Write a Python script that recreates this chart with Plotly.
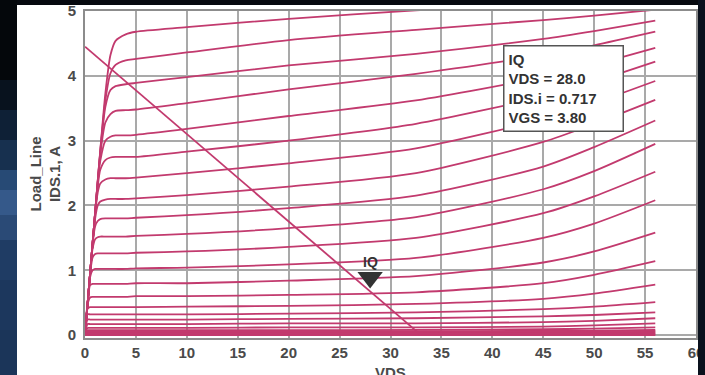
import plotly.graph_objects as go

# ---------------- data ----------------
VDS = [0, 0.25, 0.5, 0.75, 1, 1.25, 1.5, 2, 2.5, 3, 4, 5, 10, 20, 32.5, 45, 50, 56]

C1 = [0, 0.47, 0.95, 1.43, 1.90, 2.38, 2.85, 3.73, 4.32, 4.54, 4.64, 4.68, 4.75, 4.88, 5.01, 5.12, 5.16, 5.20]
C2 = [0, 0.48, 0.95, 1.43, 1.90, 2.38, 2.84, 3.62, 4.04, 4.17, 4.24, 4.26, 4.36, 4.55, 4.71, 4.86, 4.93, 5.02]
C3 = [0, 0.47, 0.95, 1.42, 1.90, 2.37, 2.82, 3.52, 3.78, 3.84, 3.87, 3.89, 3.98, 4.16, 4.34, 4.57, 4.69, 4.85]
C4 = [0, 0.48, 0.95, 1.43, 1.90, 2.36, 2.79, 3.28, 3.41, 3.46, 3.47, 3.48, 3.58, 3.79, 4.03, 4.32, 4.47, 4.68]
C5 = [0, 0.48, 0.95, 1.42, 1.90, 2.35, 2.69, 3.00, 3.06, 3.08, 3.08, 3.09, 3.18, 3.38, 3.62, 3.98, 4.17, 4.43]
C6 = [0, 0.48, 0.95, 1.42, 1.89, 2.29, 2.55, 2.70, 2.74, 2.75, 2.75, 2.75, 2.83, 3.00, 3.26, 3.68, 3.91, 4.22]
C7 = [0, 0.47, 0.95, 1.43, 1.88, 2.20, 2.34, 2.40, 2.42, 2.42, 2.42, 2.43, 2.50, 2.65, 2.88, 3.33, 3.58, 3.92]
C8 = [0, 0.47, 0.95, 1.42, 1.80, 2.00, 2.06, 2.09, 2.10, 2.10, 2.10, 2.11, 2.16, 2.29, 2.50, 2.98, 3.26, 3.63]
C9 = [0, 0.48, 0.95, 1.41, 1.68, 1.76, 1.79, 1.80, 1.80, 1.80, 1.80, 1.81, 1.85, 1.96, 2.15, 2.60, 2.90, 3.31]
C10 = [0, 0.48, 0.95, 1.34, 1.48, 1.51, 1.52, 1.52, 1.52, 1.52, 1.52, 1.53, 1.56, 1.65, 1.82, 2.25, 2.53, 2.95]
C11 = [0, 0.48, 0.94, 1.20, 1.25, 1.26, 1.26, 1.26, 1.26, 1.26, 1.26, 1.27, 1.29, 1.36, 1.50, 1.88, 2.14, 2.52]
C12 = [0, 0.48, 0.89, 1.00, 1.02, 1.02, 1.02, 1.02, 1.02, 1.02, 1.02, 1.03, 1.04, 1.09, 1.19, 1.50, 1.72, 2.08]
C13 = [0, 0.47, 0.77, 0.79, 0.79, 0.79, 0.79, 0.79, 0.79, 0.79, 0.79, 0.80, 0.80, 0.84, 0.91, 1.12, 1.29, 1.58]
C14 = [0, 0.47, 0.58, 0.59, 0.59, 0.59, 0.59, 0.59, 0.59, 0.59, 0.59, 0.60, 0.60, 0.62, 0.66, 0.80, 0.93, 1.14]
C15 = [0, 0.41, 0.43, 0.43, 0.43, 0.43, 0.43, 0.43, 0.43, 0.43, 0.43, 0.43, 0.44, 0.45, 0.48, 0.56, 0.64, 0.78]
C16 = [0, 0.32, 0.32, 0.32, 0.32, 0.32, 0.32, 0.32, 0.32, 0.32, 0.32, 0.32, 0.32, 0.33, 0.35, 0.40, 0.44, 0.51]
C17 = [0, 0.24, 0.24, 0.24, 0.24, 0.24, 0.24, 0.24, 0.24, 0.24, 0.24, 0.24, 0.24, 0.25, 0.26, 0.29, 0.31, 0.35]
C18 = [0, 0.17, 0.17, 0.17, 0.17, 0.17, 0.17, 0.17, 0.17, 0.17, 0.17, 0.17, 0.17, 0.18, 0.18, 0.20, 0.22, 0.26]
C19 = [0, 0.11, 0.11, 0.11, 0.11, 0.11, 0.11, 0.11, 0.11, 0.11, 0.11, 0.11, 0.11, 0.12, 0.12, 0.13, 0.15, 0.18]
C20 = [0, 0.075, 0.075, 0.075, 0.075, 0.075, 0.075, 0.075, 0.075, 0.075, 0.075, 0.075, 0.075, 0.075, 0.08, 0.09, 0.10, 0.12]
B1 = [0, 0.06, 0.06, 0.06, 0.06, 0.06, 0.06, 0.06, 0.06, 0.06, 0.06, 0.06, 0.06, 0.06, 0.06, 0.065, 0.07, 0.08]
B2 = [0, 0.05, 0.05, 0.05, 0.05, 0.05, 0.05, 0.05, 0.05, 0.05, 0.05, 0.05, 0.05, 0.05, 0.05, 0.055, 0.06, 0.065]
B3 = [0, 0.04, 0.04, 0.04, 0.04, 0.04, 0.04, 0.04, 0.04, 0.04, 0.04, 0.04, 0.04, 0.04, 0.04, 0.042, 0.045, 0.05]
B4 = [0, 0.03, 0.03, 0.03, 0.03, 0.03, 0.03, 0.03, 0.03, 0.03, 0.03, 0.03, 0.03, 0.03, 0.03, 0.032, 0.034, 0.037]
B5 = [0, 0.02, 0.02, 0.02, 0.02, 0.02, 0.02, 0.02, 0.02, 0.02, 0.02, 0.02, 0.02, 0.02, 0.02, 0.021, 0.022, 0.024]
B6 = [0, 0.01, 0.01, 0.01, 0.01, 0.01, 0.01, 0.01, 0.01, 0.01, 0.01, 0.01, 0.01, 0.01, 0.01, 0.011, 0.012, 0.013]
B7 = [0, 0, 0, 0, 0, 0, 0, 0, 0, 0, 0, 0, 0, 0, 0, 0, 0, 0]

CURVES = [C1, C2, C3, C4, C5, C6, C7, C8, C9, C10, C11, C12, C13, C14, C15,
          C16, C17, C18, C19, C20, B1, B2, B3, B4, B5, B6, B7]

LOAD_VDS = [0, 33]
LOAD_IDS = [4.45, 0]

IQ_VDS = 28.0
IQ_IDS = 0.717
IQ_VGS = 3.80

X_TICKS = [0, 5, 10, 15, 20, 25, 30, 35, 40, 45, 50, 55, 60]
Y_TICKS = [0, 1, 2, 3, 4, 5]

# ---------------- styling ----------------
W, H = 705, 375
ML, MR, MT, MB = 85, 9, 11, 37
PW, PH = W - ML - MR, H - MT - MB
CURVE_COLOR = "#c23a6e"
TXT = "#4a4a4a"
FONT = "Liberation Sans, Arial, sans-serif"
Y_RANGE = [-0.045, 5.0]


def px_x(p):
    return (p - ML) / PW


def px_y(p):
    return (H - MB - p) / PH


fig = go.Figure()
for c in CURVES:
    fig.add_trace(go.Scatter(x=VDS, y=c, mode="lines",
                             line=dict(color=CURVE_COLOR, width=1.8, shape="spline", smoothing=0.7),
                             hoverinfo="skip", showlegend=False))

fig.add_trace(go.Scatter(x=LOAD_VDS, y=LOAD_IDS, mode="lines",
                         line=dict(color=CURVE_COLOR, width=1.8),
                         hoverinfo="skip", showlegend=False))

# IQ marker: triangle whose tip sits on the quiescent point
tri_r = 11  # px (half of marker size)
units_per_px = (Y_RANGE[1] - Y_RANGE[0]) / PH
fig.add_trace(go.Scatter(x=[IQ_VDS], y=[IQ_IDS + tri_r * units_per_px], mode="markers",
                         marker=dict(symbol="triangle-down", size=2 * tri_r, color="#333333",
                                     line=dict(width=0)),
                         hoverinfo="skip", showlegend=False))

axis_common = dict(showgrid=True, gridcolor="#a9a9a9", gridwidth=1.5, zeroline=False,
                   showline=True, linecolor="#8c8c8c", linewidth=2, mirror=True,
                   ticks="", ticklabeloverflow="allow",
                   tickfont=dict(family=FONT, size=15, color=TXT, weight="bold"))

fig.update_xaxes(range=[0, 60], tickvals=X_TICKS, ticktext=[str(v) for v in X_TICKS], **axis_common)
fig.update_yaxes(range=Y_RANGE, tickvals=Y_TICKS, ticktext=[str(v) for v in Y_TICKS],
                 ticklabelstandoff=4, **axis_common)

annotations = [
    dict(text="IQ", x=IQ_VDS, y=IQ_IDS, xref="x", yref="y", yshift=27, showarrow=False,
         font=dict(family=FONT, size=14, color="#333333", weight="bold")),
    dict(text=f"IQ<br>VDS = {IQ_VDS:.1f}<br>IDS.i = {IQ_IDS:.3f}<br>VGS = {IQ_VGS:.2f}",
         xref="paper", yref="paper", x=px_x(503), y=px_y(45), xanchor="left", yanchor="top",
         align="left", showarrow=False, bgcolor="white", bordercolor="#555555",
         borderwidth=1.5, borderpad=4, width=110,
         font=dict(family=FONT, size=15, color="#333333", weight="bold")),
    dict(text="Load_Line<br>IDS.1, A", xref="paper", yref="paper", x=px_x(45), y=0.5,
         textangle=-90, showarrow=False, xanchor="center", yanchor="middle",
         font=dict(family=FONT, size=15, color=TXT, weight="bold")),
    dict(text="VDS", xref="paper", yref="paper", x=0.5, y=px_y(372), showarrow=False,
         xanchor="center", yanchor="middle",
         font=dict(family=FONT, size=15, color=TXT, weight="bold")),
]

shapes = []
# dark frame strips around the white panel
shapes.append(dict(type="rect", xref="paper", yref="paper", x0=px_x(0), x1=px_x(W + 2),
                   y0=px_y(5), y1=px_y(-2), fillcolor="#06090f", line=dict(width=0), layer="above"))
shapes.append(dict(type="rect", xref="paper", yref="paper", x0=px_x(698), x1=px_x(W + 2),
                   y0=px_y(H + 2), y1=px_y(-2), fillcolor="#0a111d", line=dict(width=0), layer="above"))
left_bands = [
    (0, 80, "#04070b"), (80, 110, "#08121e"), (110, 140, "#0e2036"), (140, 170, "#17304f"),
    (170, 190, "#274a75"), (190, 215, "#35598a"), (215, 240, "#2a4a76"), (240, 280, "#1f3c64"),
    (280, 330, "#1c375d"), (330, 377, "#1b3559"),
]
for y0, y1, col in left_bands:
    shapes.append(dict(type="rect", xref="paper", yref="paper", x0=px_x(-2), x1=px_x(17),
                       y0=px_y(y1), y1=px_y(y0), fillcolor=col, line=dict(width=0), layer="above"))

fig.update_layout(width=W, height=H, margin=dict(l=ML, r=MR, t=MT, b=MB, autoexpand=False),
                  paper_bgcolor="white", plot_bgcolor="white",
                  annotations=annotations, shapes=shapes, showlegend=False)

fig.write_html("out.html")
